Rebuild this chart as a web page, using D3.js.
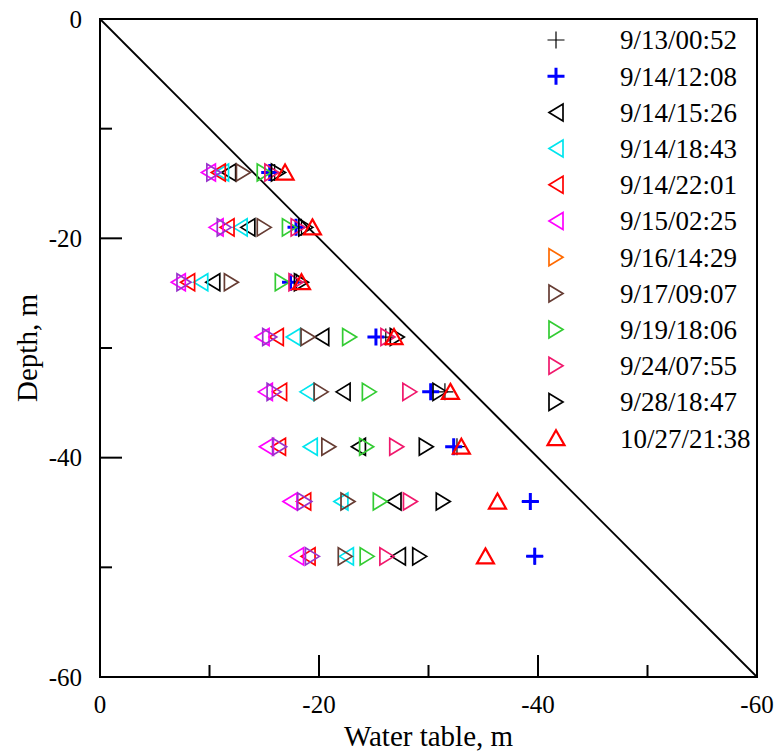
<!DOCTYPE html>
<html>
<head>
<meta charset="utf-8">
<script src="https://cdn.jsdelivr.net/npm/d3@7"></script>
<style>
  body { margin: 0; background: #fff; }
  text { font-family: "Liberation Serif", "Times New Roman", serif; }
</style>
</head>
<body>
<div id="chart"></div>
<script>
// depth of each observation row, m
var depths = [-14, -19, -24, -29, -34, -39, -44, -49];

var seriesNames = ["9/13/00:52", "9/14/12:08", "9/14/15:26", "9/14/18:43", "9/14/22:01",
    "9/15/02:25", "9/16/14:29", "9/17/09:07", "9/19/18:06", "9/24/07:55",
    "9/28/18:47", "10/27/21:38"];

// water table per row, one array per survey
var wt0913 = [-15.95, -18.4, -17.95, -26.1, -31.5, -32.6, -39.3, -39.7];
var wt091412 = [-15.5, -17.9, -17.4, -25.2, -30.2, -32.3, -39.3, -39.7];
var wt091415 = [-11.75, -13.5, -10.3, -20.25, -22.2, -23.6, -26.85, -27.25];
var wt091418 = [-11.1, -12.8, -9.2, -17.65, -18.9, -19.2, -22.0, -22.5];
var wt091422 = [-10.8, -11.6, -8.0, -16.1, -16.4, -16.3, -18.6, -19.0];
var wt0915 = [-9.9, -10.6, -7.15, -14.8, -15.1, -15.2, -17.35, -17.95];
var wt0916 = [-10.4, -11.35, -7.67, -15.5, -15.9, -16.4, -18.7, -19.4];
var wt0917 = [-13.1, -15.0, -12.0, -19.0, -20.2, -20.9, -22.65, -22.4];
var wt0919 = [-15.0, -17.3, -16.65, -22.8, -24.6, -24.35, -25.6, -24.4];
var wt0924 = [-15.7, -18.1, -17.9, -26.3, -28.3, -27.1, -28.35, -26.2];
var wt0928 = [-16.3, -18.8, -18.4, -27.15, -31.05, -29.8, -31.35, -29.2];
var wt1027 = [-16.9, -19.4, -18.4, -26.85, -32.0, -33.0, -36.3, -35.2];

var seriesValues = [wt0913, wt091412, wt091415, wt091418, wt091422, wt0915,
    wt0916, wt0917, wt0919, wt0924, wt0928, wt1027];

var seriesShapes = ["plus", "plusBold", "left", "left", "left", "left",
    "right", "right", "right", "right", "right", "up"];
var legendColors = ["#000000", "#0000ff", "#000000", "#00e5ee", "#ff0000", "#ff00ff",
    "#ff6a00", "#663c33", "#33cc33", "#f0186c", "#000000", "#ff0000"];
// the 9/16 markers in the plot are drawn purple although the legend key is orange
var markColors = legendColors.slice();
markColors[6] = "#9933cc";

var tickValues = [0, -20, -40, -60];
var minorTicks = [-10, -30, -50];

var width = 777;
var height = 753;
var plotLeft = 100, plotRight = 757, plotTop = 19, plotBottom = 677;

var svg = d3.select("#chart")
    .append("svg")
    .attr("width", width)
    .attr("height", height);

var x = d3.scaleLinear().domain([0, -60]).range([plotLeft, plotRight]);
var y = d3.scaleLinear().domain([0, -60]).range([plotTop, plotBottom]);

// frame
svg.append("rect")
    .attr("x", plotLeft)
    .attr("y", plotTop)
    .attr("width", plotRight - plotLeft)
    .attr("height", plotBottom - plotTop)
    .style("fill", "none")
    .style("stroke", "black")
    .style("stroke-width", 2);

// inside ticks
var allTicks = tickValues.concat(minorTicks);
allTicks.forEach(function (t) {
    var len = tickValues.indexOf(t) >= 0 ? 22 : 12;
    svg.append("line")
        .attr("x1", x(t)).attr("x2", x(t))
        .attr("y1", plotBottom).attr("y2", plotBottom - len)
        .style("stroke", "black").style("stroke-width", 2);
    svg.append("line")
        .attr("x1", plotLeft).attr("x2", plotLeft + len)
        .attr("y1", y(t)).attr("y2", y(t))
        .style("stroke", "black").style("stroke-width", 2);
});

// tick labels
tickValues.forEach(function (t) {
    svg.append("text")
        .attr("x", x(t))
        .attr("y", plotBottom + 36)
        .attr("text-anchor", "middle")
        .style("font-size", "25px")
        .text(t);
    svg.append("text")
        .attr("x", plotLeft - 18)
        .attr("y", y(t))
        .attr("dy", ".35em")
        .attr("text-anchor", "end")
        .style("font-size", "25px")
        .text(t);
});

// axis titles
svg.append("text")
    .attr("x", (plotLeft + plotRight) / 2)
    .attr("y", 746)
    .attr("text-anchor", "middle")
    .style("font-size", "29px")
    .text("Water table, m");

svg.append("text")
    .attr("transform", "translate(37," + (plotTop + plotBottom) / 2 + ") rotate(-90)")
    .attr("text-anchor", "middle")
    .style("font-size", "29px")
    .text("Depth, m");

// 1:1 line
svg.append("line")
    .attr("x1", x(0)).attr("y1", y(0))
    .attr("x2", x(-60)).attr("y2", y(-60))
    .style("stroke", "black")
    .style("stroke-width", 1.8);

function symbolPath(shape) {
    if (shape === "plus" || shape === "plusBold") {
        return "M-8.5,0H8.5M0,-8.5V8.5";
    }
    if (shape === "left") {
        return "M-7,0L7,-8.5L7,8.5Z";
    }
    if (shape === "right") {
        return "M7,0L-7,-8.5L-7,8.5Z";
    }
    return "M0,-8L8.5,7L-8.5,7Z";
}

function symbolWidth(shape) {
    if (shape === "plusBold") return 3;
    if (shape === "plus") return 1.2;
    if (shape === "up") return 2.2;
    return 1.7;
}

function drawSymbol(g, shape, color, px, py) {
    g.append("path")
        .attr("d", symbolPath(shape))
        .attr("transform", "translate(" + px + "," + py + ")")
        .style("fill", "none")
        .style("stroke", color)
        .style("stroke-width", symbolWidth(shape));
}

// data markers
var marks = svg.append("g");
seriesValues.forEach(function (vals, i) {
    vals.forEach(function (v, j) {
        drawSymbol(marks, seriesShapes[i], markColors[i], x(v), y(depths[j]));
    });
});

// legend
var legY0 = 40, legStep = 36.2;
var legend = svg.append("g");
seriesNames.forEach(function (name, i) {
    var ly = legY0 + i * legStep;
    legend.append("rect")
        .attr("x", 540).attr("y", ly - 15)
        .attr("width", 214).attr("height", 30)
        .style("fill", "white");
    drawSymbol(legend, seriesShapes[i], legendColors[i], 556, ly);
    legend.append("text")
        .attr("x", 620)
        .attr("y", ly)
        .attr("dy", ".35em")
        .style("font-size", "27px")
        .text(name);
});
</script>
</body>
</html>
